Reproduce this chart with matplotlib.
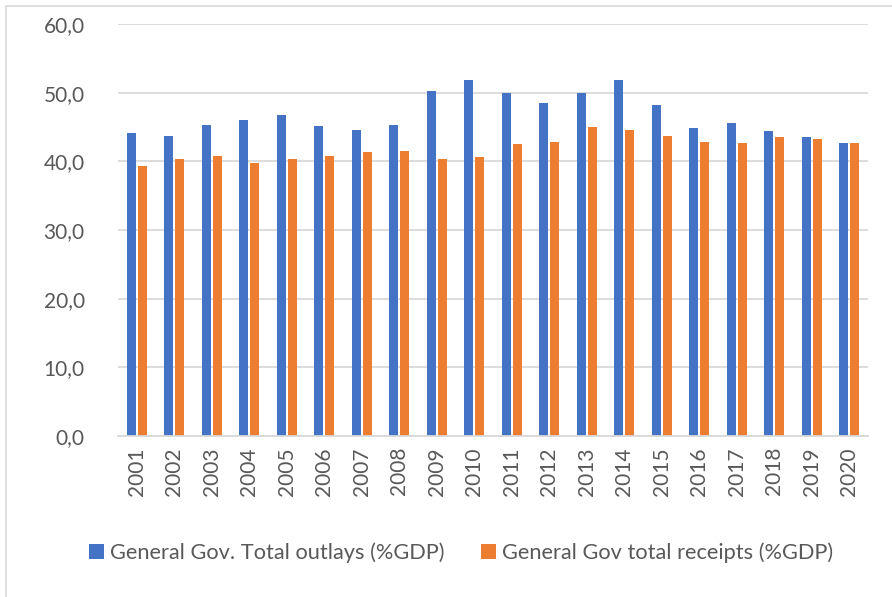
import matplotlib
matplotlib.use("Agg")
import matplotlib.pyplot as plt
import numpy as np
from matplotlib.patches import Rectangle

years = ["2001", "2002", "2003", "2004", "2005", "2006", "2007", "2008", "2009", "2010",
         "2011", "2012", "2013", "2014", "2015", "2016", "2017", "2018", "2019", "2020"]
outlays = [44.1, 43.7, 45.3, 46.0, 46.7, 45.2, 44.5, 45.3, 50.2, 51.9,
           50.0, 48.5, 49.9, 51.8, 48.2, 44.8, 45.6, 44.4, 43.5, 42.6]
receipts = [39.3, 40.3, 40.8, 39.8, 40.4, 40.8, 41.4, 41.5, 40.3, 40.6,
            42.5, 42.8, 45.0, 44.6, 43.7, 42.8, 42.6, 43.6, 43.2, 42.6]
yticks = [0, 10, 20, 30, 40, 50, 60]
ytick_labels = ["0,0", "10,0", "20,0", "30,0", "40,0", "50,0", "60,0"]
series_names = ["General Gov. Total outlays (%GDP)", "General Gov total receipts (%GDP)"]

plt.rcParams['font.family'] = ['Lato', 'DejaVu Sans']
W, H = 892, 597
fig = plt.figure(figsize=(W / 100, H / 100), dpi=100)

# outer chart border
fig.patches.append(Rectangle((6 / W, -0.1), 1.2, (H - 6) / H + 0.1, transform=fig.transFigure,
                             fill=False, edgecolor="#d9d9d9", linewidth=1.2))

ax = fig.add_axes([118 / W, (H - 436) / H, (868 - 118) / W, (436 - 24) / H])
x = np.arange(len(years))
w = 0.23
b1 = ax.bar(x - 0.148, outlays, width=w, color="#4472C4", label=series_names[0])
b2 = ax.bar(x + 0.148, receipts, width=w, color="#ED7D31", label=series_names[1])

ax.set_xlim(-0.5, len(years) - 0.5)
ax.set_ylim(0, 60)
ax.set_yticks(yticks)
ax.set_yticklabels(ytick_labels)
ax.set_xticks(x)
ax.set_xticklabels(years, rotation=90)
ax.yaxis.grid(True, color="#d9d9d9", linewidth=1.3)
ax.set_axisbelow(True)
for s in ["top", "right", "left"]:
    ax.spines[s].set_visible(False)
ax.spines["bottom"].set_color("#d9d9d9")
ax.spines["bottom"].set_linewidth(1.3)
ax.tick_params(axis="both", length=0, colors="#595959", labelsize=15)
ax.tick_params(axis="y", pad=24)
ax.tick_params(axis="x", pad=8)

fig.legend(handles=[b1, b2], loc="center", bbox_to_anchor=(461 / W, (H - 553) / H),
           ncol=2, frameon=False, fontsize=15.7, labelcolor="#595959",
           handlelength=0.68, handleheight=0.68, handletextpad=0.25, columnspacing=1.7)

fig.savefig("out.png", dpi=100)
